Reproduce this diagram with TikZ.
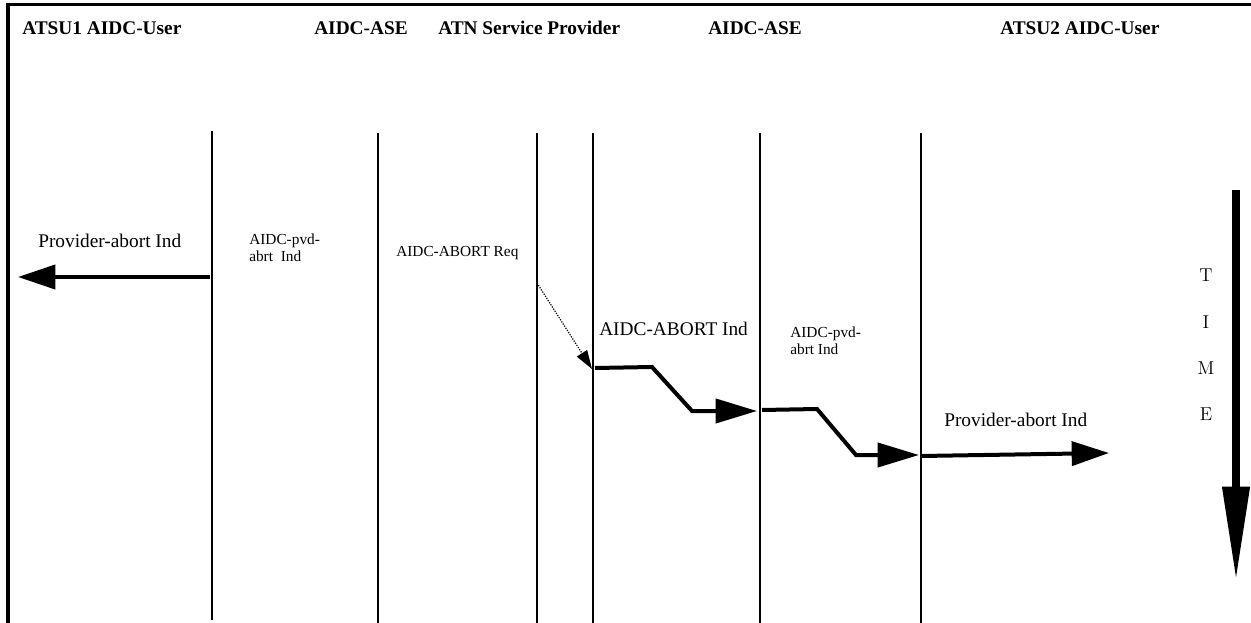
\documentclass[tikz,border=0pt]{standalone}
\usepackage{fontspec}
\newfontfamily\tms{Liberation Serif}
\usetikzlibrary{arrows.meta}
\begin{document}
\begin{tikzpicture}[x=0.75pt,y=-0.75pt,
  life/.style={line width=1.5pt},
  msg/.style={line width=3pt},
  head/.style={font=\tms\bfseries\fontsize{14.5}{16}\selectfont,anchor=west,inner sep=0pt},
  lbl/.style={font=\tms\fontsize{14.5}{16}\selectfont,anchor=west,inner sep=0pt},
  small/.style={font=\tms\fontsize{11.5}{13}\selectfont,anchor=west,inner sep=0pt,align=left},
  timel/.style={font=\fontsize{14}{16}\selectfont,inner sep=0pt}]
\useasboundingbox (0,0) rectangle (1251,623);
% frame
\draw[line width=2.4pt] (8,623) -- (8,4.5) -- (1251,4.5);
% headings
\node[head] (h1) at (22,28) {ATSU1 AIDC-User};
\node[head] (h2) at (314,28) {AIDC-ASE};
\node[head] (h3) at (438,28) {ATN Service Provider};
\node[head] (h4) at (708,28) {AIDC-ASE};
\node[head] (h5) at (1000,28) {ATSU2 AIDC-User};
% lifelines
\coordinate (l1t) at (212,131); \coordinate (l1b) at (212,620);
\coordinate (l2t) at (378,133); \coordinate (l2b) at (378,623);
\coordinate (l3t) at (537,133); \coordinate (l3b) at (537,623);
\coordinate (l4t) at (593,133); \coordinate (l4b) at (593,623);
\coordinate (l5t) at (760,133); \coordinate (l5b) at (760,623);
\coordinate (l6t) at (921,133); \coordinate (l6b) at (921,623);
\foreach \i in {1,...,6} \draw[life] (l\i t) -- (l\i b);
% labels
\node[lbl] (pa1) at (38,241) {Provider-abort Ind};
\node[small] (pv1) at (249,248) {AIDC-pvd-\\abrt\ \ Ind};
\node[small] (req) at (396,253) {AIDC-ABORT Req};
\node[lbl] (ind) at (599,329) {AIDC-ABORT Ind};
\node[small] (pv2) at (790,341) {AIDC-pvd-\\abrt Ind};
\node[lbl] (pa2) at (944,420) {Provider-abort Ind};
% left arrow
\coordinate (a1s) at (210,277); \coordinate (a1e) at (18,277);
\draw[msg,-{Triangle[length=28pt,width=18pt]}] (a1s) -- (a1e);
% dotted request
\coordinate (rs) at (537,283); \coordinate (re) at (592,369);
\draw[densely dotted,line width=0.9pt,-{Triangle[length=14pt,width=9pt]}] (rs) -- (re);
% indication zigzag 1
\coordinate (z1a) at (595,368); \coordinate (z1b) at (652,367);
\coordinate (z1c) at (692,411); \coordinate (z1d) at (757,411);
\draw[msg,-{Triangle[length=31pt,width=18pt]}] (z1a) -- (z1b) -- (z1c) -- (z1d);
% zigzag 2
\coordinate (z2a) at (762,410); \coordinate (z2b) at (817,409);
\coordinate (z2c) at (856,455); \coordinate (z2d) at (919,455);
\draw[msg,-{Triangle[length=31pt,width=18pt]}] (z2a) -- (z2b) -- (z2c) -- (z2d);
% right arrow
\coordinate (a3s) at (921,456); \coordinate (a3e) at (1109,453);
\draw[msg,-{Triangle[length=28pt,width=18pt]}] (a3s) -- (a3e);
% time
\coordinate (ts) at (1236,190); \coordinate (te) at (1236,580);
\draw[line width=5.5pt,-{Triangle[length=70pt,width=19.5pt]}] (ts) -- (te);
\node[timel] (tT) at (1206,275) {T};
\node[timel] (tI) at (1206,322) {I};
\node[timel] (tM) at (1206,368) {M};
\node[timel] (tE) at (1206,414) {E};
\end{tikzpicture}
\end{document}
